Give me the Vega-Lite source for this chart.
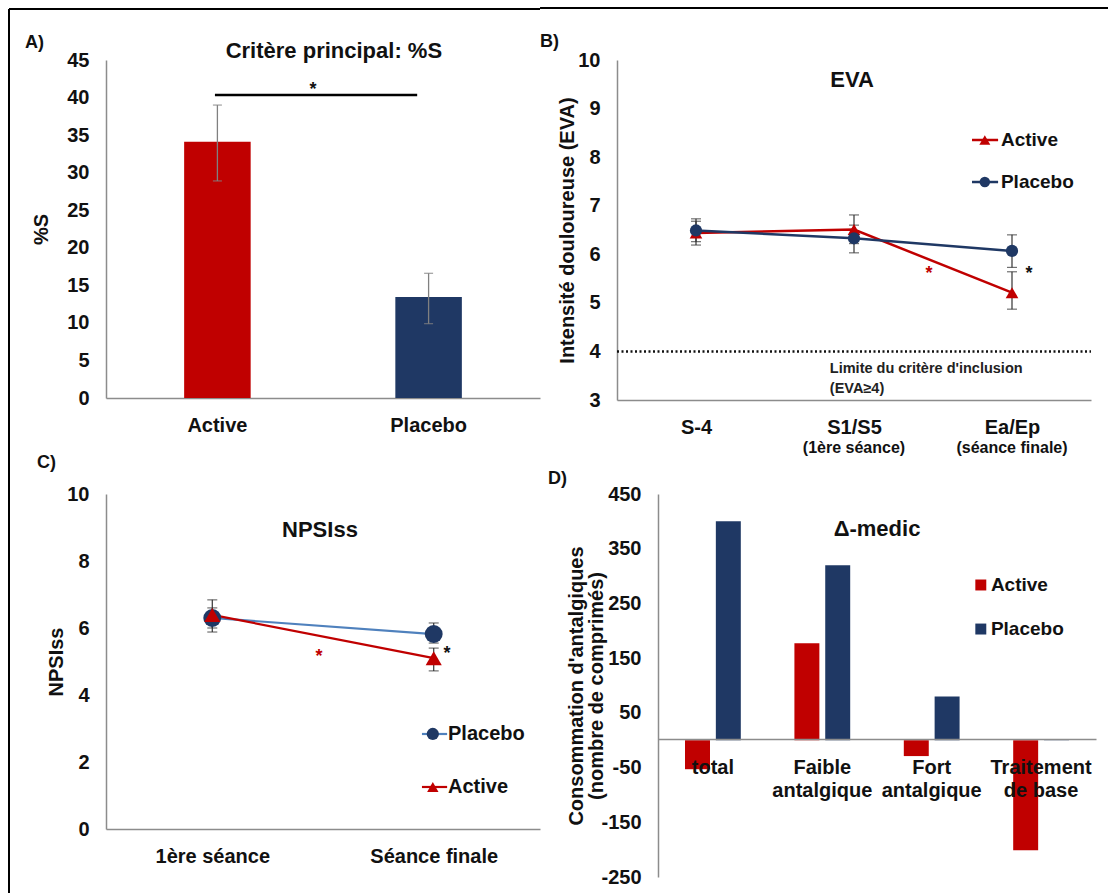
{
  "$schema": "https://vega.github.io/schema/vega-lite/v6.json",
  "background": "white",
  "padding": {"left": 8, "top": 7, "right": 0, "bottom": 0},
  "autosize": {"type": "pad"},
  "config": {
    "font": "Liberation Sans",
    "view": {"stroke": null},
    "text": {"font": "Liberation Sans", "fontWeight": "bold", "color": "#111"},
    "axis": {
      "labelFont": "Liberation Sans", "labelFontWeight": "bold", "labelFontSize": 20, "labelColor": "#111",
      "titleFont": "Liberation Sans", "titleFontWeight": "bold", "titleFontSize": 20, "titleColor": "#111",
      "domainColor": "#8c8c8c", "domainWidth": 1.5, "ticks": false, "grid": false, "labelPadding": 17, "labelOverlap": false
    }
  },
  "datasets": {
    "one": [{}],
    "pctS": [
      {"group": "Active", "value": 34.1, "lo": 28.9, "hi": 39.0},
      {"group": "Placebo", "value": 13.45, "lo": 9.9, "hi": 16.6}
    ],
    "eva": [
      {"session": "S-4", "group": "Active", "value": 6.44, "lo": 6.19, "hi": 6.68},
      {"session": "S1/S5", "group": "Active", "value": 6.51, "lo": 6.22, "hi": 6.81},
      {"session": "Ea/Ep", "group": "Active", "value": 5.21, "lo": 4.87, "hi": 5.64},
      {"session": "S-4", "group": "Placebo", "value": 6.49, "lo": 6.26, "hi": 6.73},
      {"session": "S1/S5", "group": "Placebo", "value": 6.33, "lo": 6.03, "hi": 6.6},
      {"session": "Ea/Ep", "group": "Placebo", "value": 6.07, "lo": 5.73, "hi": 6.4}
    ],
    "evaSub": [
      {"session": "S1/S5", "sub": "(1ère séance)"},
      {"session": "Ea/Ep", "sub": "(séance finale)"}
    ],
    "npsi": [
      {"time": "1ère séance", "group": "Placebo", "value": 6.3, "lo": 5.88, "hi": 6.6},
      {"time": "Séance finale", "group": "Placebo", "value": 5.82, "lo": 5.55, "hi": 6.15},
      {"time": "1ère séance", "group": "Active", "value": 6.39, "lo": 6.0, "hi": 6.84},
      {"time": "Séance finale", "group": "Active", "value": 5.1, "lo": 4.72, "hi": 5.4}
    ],
    "medic": [
      {"cat": "total", "group": "Active", "value": -53},
      {"cat": "total", "group": "Placebo", "value": 400},
      {"cat": "Faible antalgique", "group": "Active", "value": 177},
      {"cat": "Faible antalgique", "group": "Placebo", "value": 320},
      {"cat": "Fort antalgique", "group": "Active", "value": -29},
      {"cat": "Fort antalgique", "group": "Placebo", "value": 80},
      {"cat": "Traitement de base", "group": "Active", "value": -201},
      {"cat": "Traitement de base", "group": "Placebo", "value": 2}
    ]
  },
  "spacing": -17,
  "vconcat": [
    {
      "spacing": -2,
      "hconcat": [
        {
          "width": 434, "height": 338,
          "resolve": {"scale": {"x": "independent"}},
          "layer": [
            {
              "data": {"name": "pctS"},
              "layer": [
                {
                  "mark": {"type": "bar"},
                  "encoding": {
                    "x": {"field": "group", "type": "nominal", "scale": {"domain": ["Active", "Placebo"], "paddingInner": 0.685, "paddingOuter": 0.37}, "axis": {"title": null, "labelAngle": 0}},
                    "y": {"field": "value", "type": "quantitative", "scale": {"domain": [0, 45], "nice": false}, "axis": {"title": "%S", "values": [0, 5, 10, 15, 20, 25, 30, 35, 40, 45], "tickCount": 10, "labelOverlap": false, "titlePadding": 15}},
                    "color": {"field": "group", "type": "nominal", "scale": {"domain": ["Active", "Placebo"], "range": ["#C00000", "#1F3864"]}, "legend": null}
                  }
                },
                {
                  "mark": {"type": "rule", "color": "#808080", "strokeWidth": 1.3},
                  "encoding": {"x": {"field": "group", "type": "nominal"}, "y": {"field": "lo", "type": "quantitative"}, "y2": {"field": "hi"}}
                },
                {
                  "mark": {"type": "tick", "orient": "horizontal", "color": "#808080", "size": 9, "thickness": 1.3},
                  "encoding": {"x": {"field": "group", "type": "nominal"}, "y": {"field": "hi", "type": "quantitative"}}
                },
                {
                  "mark": {"type": "tick", "orient": "horizontal", "color": "#808080", "size": 9, "thickness": 1.3},
                  "encoding": {"x": {"field": "group", "type": "nominal"}, "y": {"field": "lo", "type": "quantitative"}}
                }
              ]
            },
            {
              "data": {"name": "one"},
              "layer": [
                {
                  "mark": {"type": "rule", "color": "#000", "strokeWidth": 2},
                  "encoding": {"x": {"datum": -0.2235, "type": "quantitative", "scale": {"domain": [0, 1]}, "axis": null}, "x2": {"datum": 1}, "y": {"datum": 51.79, "type": "quantitative"}}
                },
                {
                  "mark": {"type": "rule", "color": "#000", "strokeWidth": 2},
                  "encoding": {"x": {"datum": -0.2235, "type": "quantitative", "scale": {"domain": [0, 1]}, "axis": null}, "y": {"datum": 51.79, "type": "quantitative"}, "y2": {"datum": -5.73}}
                },
                {
                  "mark": {"type": "text", "text": "A)", "fontSize": 18, "align": "left", "baseline": "middle"},
                  "encoding": {"x": {"datum": -0.1866, "type": "quantitative", "scale": {"domain": [0, 1]}, "axis": null}, "y": {"datum": 47.26, "type": "quantitative"}}
                },
                {
                  "mark": {"type": "text", "text": "Critère principal: %S", "fontSize": 22, "align": "center", "baseline": "middle"},
                  "encoding": {"x": {"datum": 0.525, "type": "quantitative", "scale": {"domain": [0, 1]}, "axis": null}, "y": {"datum": 46.2, "type": "quantitative"}}
                },
                {
                  "mark": {"type": "rule", "color": "#000", "strokeWidth": 2.5},
                  "encoding": {"x": {"datum": 0.251, "type": "quantitative", "scale": {"domain": [0, 1]}, "axis": null}, "x2": {"datum": 0.717}, "y": {"datum": 40.34, "type": "quantitative"}}
                },
                {
                  "mark": {"type": "text", "text": "*", "fontSize": 18, "align": "center", "baseline": "middle"},
                  "encoding": {"x": {"datum": 0.477, "type": "quantitative", "scale": {"domain": [0, 1]}, "axis": null}, "y": {"datum": 40.94, "type": "quantitative"}}
                }
              ]
            }
          ]
        },
        {
          "width": 474, "height": 340,
          "resolve": {"scale": {"x": "independent"}},
          "layer": [
            {
              "layer": [
                {
                  "data": {"name": "eva"},
                  "mark": {"type": "line", "strokeWidth": 2.5},
                  "encoding": {
                    "x": {"field": "session", "type": "nominal", "scale": {"type": "point", "domain": ["S-4", "S1/S5", "Ea/Ep"], "padding": 0.5}, "axis": {"title": null, "labelAngle": 0}},
                    "y": {"field": "value", "type": "quantitative", "scale": {"domain": [3, 10], "nice": false}, "axis": {"title": "Intensité douloureuse (EVA)", "values": [3, 4, 5, 6, 7, 8, 9, 10], "titlePadding": 0}},
                    "color": {"field": "group", "type": "nominal", "scale": {"domain": ["Active", "Placebo"], "range": ["#C00000", "#1F3864"]}, "legend": null}
                  }
                },
                {
                  "data": {"name": "eva"},
                  "mark": {"type": "rule", "color": "#333", "strokeWidth": 1.2},
                  "encoding": {"x": {"field": "session", "type": "nominal"}, "y": {"field": "lo", "type": "quantitative"}, "y2": {"field": "hi"}}
                },
                {
                  "data": {"name": "eva"},
                  "mark": {"type": "tick", "orient": "horizontal", "color": "#333", "size": 10, "thickness": 1.2},
                  "encoding": {"x": {"field": "session", "type": "nominal"}, "y": {"field": "hi", "type": "quantitative"}}
                },
                {
                  "data": {"name": "eva"},
                  "mark": {"type": "tick", "orient": "horizontal", "color": "#333", "size": 10, "thickness": 1.2},
                  "encoding": {"x": {"field": "session", "type": "nominal"}, "y": {"field": "lo", "type": "quantitative"}}
                },
                {
                  "data": {"name": "eva"},
                  "transform": [{"filter": "datum.group == 'Active'"}],
                  "mark": {"type": "point", "shape": "triangle-up", "filled": true, "size": 160, "opacity": 1, "color": "#C00000"},
                  "encoding": {"x": {"field": "session", "type": "nominal"}, "y": {"field": "value", "type": "quantitative"}}
                },
                {
                  "data": {"name": "eva"},
                  "transform": [{"filter": "datum.group == 'Placebo'"}],
                  "mark": {"type": "point", "shape": "circle", "filled": true, "size": 150, "opacity": 1, "color": "#1F3864"},
                  "encoding": {"x": {"field": "session", "type": "nominal"}, "y": {"field": "value", "type": "quantitative"}}
                },
                {
                  "data": {"name": "evaSub"},
                  "mark": {"type": "text", "fontSize": 16, "align": "center", "baseline": "middle"},
                  "encoding": {"x": {"field": "session", "type": "nominal"}, "y": {"datum": 2.01, "type": "quantitative"}, "text": {"field": "sub"}}
                }
              ]
            },
            {
              "data": {"name": "one"},
              "layer": [
                {
                  "mark": {"type": "rule", "color": "#000", "strokeWidth": 2},
                  "encoding": {"x": {"datum": -0.1624, "type": "quantitative", "scale": {"domain": [0, 1]}, "axis": null}, "x2": {"datum": 1.0359}, "y": {"datum": 11.07, "type": "quantitative"}}
                },
                {
                  "mark": {"type": "rule", "color": "#111", "strokeWidth": 2.5, "strokeDash": [2, 2.5]},
                  "encoding": {"x": {"datum": 0, "type": "quantitative", "scale": {"domain": [0, 1]}, "axis": null}, "x2": {"datum": 1}, "y": {"datum": 4, "type": "quantitative"}}
                },
                {
                  "mark": {"type": "text", "text": "B)", "fontSize": 18, "align": "left", "baseline": "middle"},
                  "encoding": {"x": {"datum": -0.1624, "type": "quantitative", "scale": {"domain": [0, 1]}, "axis": null}, "y": {"datum": 10.37, "type": "quantitative"}}
                },
                {
                  "mark": {"type": "text", "text": "EVA", "fontSize": 22, "align": "center", "baseline": "middle"},
                  "encoding": {"x": {"datum": 0.496, "type": "quantitative", "scale": {"domain": [0, 1]}, "axis": null}, "y": {"datum": 9.59, "type": "quantitative"}}
                },
                {
                  "mark": {"type": "text", "text": "Limite du critère d'inclusion", "fontSize": 14.5, "align": "left", "baseline": "middle", "color": "#222"},
                  "encoding": {"x": {"datum": 0.449, "type": "quantitative", "scale": {"domain": [0, 1]}, "axis": null}, "y": {"datum": 3.638, "type": "quantitative"}}
                },
                {
                  "mark": {"type": "text", "text": "(EVA≥4)", "fontSize": 14.5, "align": "left", "baseline": "middle", "color": "#222"},
                  "encoding": {"x": {"datum": 0.449, "type": "quantitative", "scale": {"domain": [0, 1]}, "axis": null}, "y": {"datum": 3.226, "type": "quantitative"}}
                },
                {
                  "mark": {"type": "text", "text": "*", "fontSize": 18, "align": "center", "baseline": "middle", "color": "#C00000"},
                  "encoding": {"x": {"datum": 0.658, "type": "quantitative", "scale": {"domain": [0, 1]}, "axis": null}, "y": {"datum": 5.584, "type": "quantitative"}}
                },
                {
                  "mark": {"type": "text", "text": "*", "fontSize": 18, "align": "center", "baseline": "middle"},
                  "encoding": {"x": {"datum": 0.869, "type": "quantitative", "scale": {"domain": [0, 1]}, "axis": null}, "y": {"datum": 5.584, "type": "quantitative"}}
                },
                {
                  "mark": {"type": "rule", "color": "#C00000", "strokeWidth": 2.5},
                  "encoding": {"x": {"datum": 0.749, "type": "quantitative", "scale": {"domain": [0, 1]}, "axis": null}, "x2": {"datum": 0.804}, "y": {"datum": 8.353, "type": "quantitative"}}
                },
                {
                  "mark": {"type": "point", "shape": "triangle-up", "filled": true, "size": 120, "opacity": 1, "color": "#C00000"},
                  "encoding": {"x": {"datum": 0.776, "type": "quantitative", "scale": {"domain": [0, 1]}, "axis": null}, "y": {"datum": 8.353, "type": "quantitative"}}
                },
                {
                  "mark": {"type": "text", "text": "Active", "fontSize": 19, "align": "left", "baseline": "middle"},
                  "encoding": {"x": {"datum": 0.81, "type": "quantitative", "scale": {"domain": [0, 1]}, "axis": null}, "y": {"datum": 8.353, "type": "quantitative"}}
                },
                {
                  "mark": {"type": "rule", "color": "#1F3864", "strokeWidth": 2.5},
                  "encoding": {"x": {"datum": 0.749, "type": "quantitative", "scale": {"domain": [0, 1]}, "axis": null}, "x2": {"datum": 0.804}, "y": {"datum": 7.488, "type": "quantitative"}}
                },
                {
                  "mark": {"type": "point", "shape": "circle", "filled": true, "size": 110, "opacity": 1, "color": "#1F3864"},
                  "encoding": {"x": {"datum": 0.776, "type": "quantitative", "scale": {"domain": [0, 1]}, "axis": null}, "y": {"datum": 7.488, "type": "quantitative"}}
                },
                {
                  "mark": {"type": "text", "text": "Placebo", "fontSize": 19, "align": "left", "baseline": "middle"},
                  "encoding": {"x": {"datum": 0.81, "type": "quantitative", "scale": {"domain": [0, 1]}, "axis": null}, "y": {"datum": 7.488, "type": "quantitative"}}
                }
              ]
            }
          ]
        }
      ]
    },
    {
      "spacing": 8,
      "hconcat": [
        {
          "width": 434, "height": 335,
          "resolve": {"scale": {"x": "independent"}},
          "layer": [
            {
              "data": {"name": "npsi"},
              "layer": [
                {
                  "transform": [{"filter": "datum.group == 'Placebo'"}],
                  "mark": {"type": "line", "strokeWidth": 2.2, "color": "#4F81BD"},
                  "encoding": {
                    "x": {"field": "time", "type": "nominal", "scale": {"type": "point", "domain": ["1ère séance", "Séance finale"], "padding": 0.48}, "axis": {"title": null, "labelAngle": 0}},
                    "y": {"field": "value", "type": "quantitative", "scale": {"domain": [0, 10], "nice": false}, "axis": {"title": "NPSIss", "values": [0, 2, 4, 6, 8, 10], "titlePadding": 0}}
                  }
                },
                {
                  "transform": [{"filter": "datum.group == 'Active'"}],
                  "mark": {"type": "line", "strokeWidth": 2.2, "color": "#C00000"},
                  "encoding": {"x": {"field": "time", "type": "nominal"}, "y": {"field": "value", "type": "quantitative"}}
                },
                {
                  "mark": {"type": "rule", "color": "#333", "strokeWidth": 1.2},
                  "encoding": {"x": {"field": "time", "type": "nominal"}, "y": {"field": "lo", "type": "quantitative"}, "y2": {"field": "hi"}}
                },
                {
                  "mark": {"type": "tick", "orient": "horizontal", "color": "#333", "size": 10, "thickness": 1.2},
                  "encoding": {"x": {"field": "time", "type": "nominal"}, "y": {"field": "hi", "type": "quantitative"}}
                },
                {
                  "mark": {"type": "tick", "orient": "horizontal", "color": "#333", "size": 10, "thickness": 1.2},
                  "encoding": {"x": {"field": "time", "type": "nominal"}, "y": {"field": "lo", "type": "quantitative"}}
                },
                {
                  "transform": [{"filter": "datum.group == 'Placebo'"}],
                  "mark": {"type": "point", "shape": "circle", "filled": true, "size": 320, "opacity": 1, "color": "#1F3864"},
                  "encoding": {"x": {"field": "time", "type": "nominal"}, "y": {"field": "value", "type": "quantitative"}}
                },
                {
                  "transform": [{"filter": "datum.group == 'Active'"}],
                  "mark": {"type": "point", "shape": "triangle-up", "filled": true, "size": 260, "opacity": 1, "color": "#C00000"},
                  "encoding": {"x": {"field": "time", "type": "nominal"}, "y": {"field": "value", "type": "quantitative"}}
                }
              ]
            },
            {
              "data": {"name": "one"},
              "layer": [
                {
                  "mark": {"type": "rule", "color": "#000", "strokeWidth": 2},
                  "encoding": {"x": {"datum": -0.2235, "type": "quantitative", "scale": {"domain": [0, 1]}, "axis": null}, "y": {"datum": 11.58, "type": "quantitative"}, "y2": {"datum": -2.1}}
                },
                {
                  "mark": {"type": "text", "text": "C)", "fontSize": 18, "align": "left", "baseline": "middle"},
                  "encoding": {"x": {"datum": -0.159, "type": "quantitative", "scale": {"domain": [0, 1]}, "axis": null}, "y": {"datum": 10.925, "type": "quantitative"}}
                },
                {
                  "mark": {"type": "text", "text": "NPSIss", "fontSize": 22, "align": "center", "baseline": "middle"},
                  "encoding": {"x": {"datum": 0.493, "type": "quantitative", "scale": {"domain": [0, 1]}, "axis": null}, "y": {"datum": 8.925, "type": "quantitative"}}
                },
                {
                  "mark": {"type": "text", "text": "*", "fontSize": 18, "align": "center", "baseline": "middle", "color": "#C00000"},
                  "encoding": {"x": {"datum": 0.491, "type": "quantitative", "scale": {"domain": [0, 1]}, "axis": null}, "y": {"datum": 5.149, "type": "quantitative"}}
                },
                {
                  "mark": {"type": "text", "text": "*", "fontSize": 18, "align": "center", "baseline": "middle"},
                  "encoding": {"x": {"datum": 0.786, "type": "quantitative", "scale": {"domain": [0, 1]}, "axis": null}, "y": {"datum": 5.209, "type": "quantitative"}}
                },
                {
                  "mark": {"type": "rule", "color": "#4F81BD", "strokeWidth": 2.2},
                  "encoding": {"x": {"datum": 0.728, "type": "quantitative", "scale": {"domain": [0, 1]}, "axis": null}, "x2": {"datum": 0.786}, "y": {"datum": 2.836, "type": "quantitative"}}
                },
                {
                  "mark": {"type": "point", "shape": "circle", "filled": true, "size": 150, "opacity": 1, "color": "#1F3864"},
                  "encoding": {"x": {"datum": 0.753, "type": "quantitative", "scale": {"domain": [0, 1]}, "axis": null}, "y": {"datum": 2.836, "type": "quantitative"}}
                },
                {
                  "mark": {"type": "text", "text": "Placebo", "fontSize": 20, "align": "left", "baseline": "middle"},
                  "encoding": {"x": {"datum": 0.788, "type": "quantitative", "scale": {"domain": [0, 1]}, "axis": null}, "y": {"datum": 2.836, "type": "quantitative"}}
                },
                {
                  "mark": {"type": "rule", "color": "#C00000", "strokeWidth": 2.2},
                  "encoding": {"x": {"datum": 0.728, "type": "quantitative", "scale": {"domain": [0, 1]}, "axis": null}, "x2": {"datum": 0.786}, "y": {"datum": 1.254, "type": "quantitative"}}
                },
                {
                  "mark": {"type": "point", "shape": "triangle-up", "filled": true, "size": 130, "opacity": 1, "color": "#C00000"},
                  "encoding": {"x": {"datum": 0.753, "type": "quantitative", "scale": {"domain": [0, 1]}, "axis": null}, "y": {"datum": 1.254, "type": "quantitative"}}
                },
                {
                  "mark": {"type": "text", "text": "Active", "fontSize": 20, "align": "left", "baseline": "middle"},
                  "encoding": {"x": {"datum": 0.788, "type": "quantitative", "scale": {"domain": [0, 1]}, "axis": null}, "y": {"datum": 1.254, "type": "quantitative"}}
                }
              ]
            }
          ]
        },
        {
          "width": 438, "height": 383,
          "resolve": {"scale": {"x": "independent"}},
          "layer": [
            {
              "data": {"name": "medic"},
              "mark": {"type": "bar"},
              "encoding": {
                "x": {"field": "cat", "type": "nominal", "scale": {"domain": ["total", "Faible antalgique", "Fort antalgique", "Traitement de base"], "paddingInner": 0.49, "paddingOuter": 0.247},
                  "axis": {"title": null, "labelAngle": 0, "offset": -138, "labelPadding": 18, "labelLineHeight": 23, "zindex": 1,
                    "labelExpr": "datum.value == 'Traitement de base' ? ['Traitement', 'de base'] : (datum.value == 'total' ? 'total' : split(datum.value, ' '))"}},
                "xOffset": {"field": "group", "type": "nominal", "scale": {"domain": ["Active", "Placebo"], "paddingInner": 0.19}},
                "y": {"field": "value", "type": "quantitative", "scale": {"domain": [-250, 450], "nice": false}, "axis": {"title": ["Consommation d'antalgiques", "(nombre de comprimés)"], "titleLineHeight": 20, "values": [-250, -150, -50, 50, 150, 250, 350, 450], "labelExpr": "toString(datum.value)", "titlePadding": -6}},
                "color": {"field": "group", "type": "nominal", "scale": {"domain": ["Active", "Placebo"], "range": ["#C00000", "#1F3864"]}, "legend": null}
              }
            },
            {
              "data": {"name": "one"},
              "layer": [
                {
                  "mark": {"type": "text", "text": "D)", "fontSize": 18, "align": "left", "baseline": "middle"},
                  "encoding": {"x": {"datum": -0.251, "type": "quantitative", "scale": {"domain": [0, 1]}, "axis": null}, "y": {"datum": 477.4, "type": "quantitative"}}
                },
                {
                  "mark": {"type": "text", "text": "Δ-medic", "fontSize": 22, "align": "center", "baseline": "middle"},
                  "encoding": {"x": {"datum": 0.5, "type": "quantitative", "scale": {"domain": [0, 1]}, "axis": null}, "y": {"datum": 386, "type": "quantitative"}}
                },
                {
                  "mark": {"type": "square", "size": 120, "filled": true, "opacity": 1, "color": "#C00000"},
                  "encoding": {"x": {"datum": 0.737, "type": "quantitative", "scale": {"domain": [0, 1]}, "axis": null}, "y": {"datum": 283.7, "type": "quantitative"}}
                },
                {
                  "mark": {"type": "text", "text": "Active", "fontSize": 19, "align": "left", "baseline": "middle"},
                  "encoding": {"x": {"datum": 0.76, "type": "quantitative", "scale": {"domain": [0, 1]}, "axis": null}, "y": {"datum": 283.7, "type": "quantitative"}}
                },
                {
                  "mark": {"type": "square", "size": 120, "filled": true, "opacity": 1, "color": "#1F3864"},
                  "encoding": {"x": {"datum": 0.737, "type": "quantitative", "scale": {"domain": [0, 1]}, "axis": null}, "y": {"datum": 203.2, "type": "quantitative"}}
                },
                {
                  "mark": {"type": "text", "text": "Placebo", "fontSize": 19, "align": "left", "baseline": "middle"},
                  "encoding": {"x": {"datum": 0.76, "type": "quantitative", "scale": {"domain": [0, 1]}, "axis": null}, "y": {"datum": 203.2, "type": "quantitative"}}
                }
              ]
            }
          ]
        }
      ]
    }
  ]
}
